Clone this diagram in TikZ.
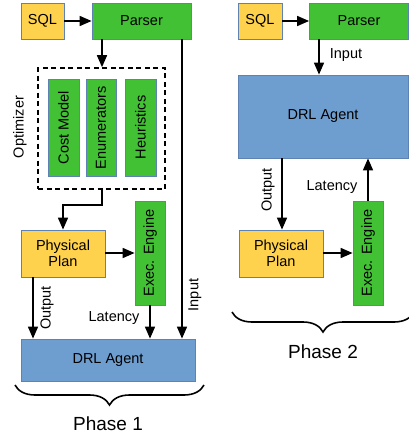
\documentclass[tikz,border=0pt]{standalone}
\usepackage{fontspec}
\setmainfont{Liberation Sans}
\usetikzlibrary{arrows.meta,decorations.pathreplacing}
\definecolor{yel}{HTML}{FFD24D}
\definecolor{grn}{HTML}{42C134}
\definecolor{blu}{HTML}{6E9ECF}
\definecolor{bord}{HTML}{5F82B5}
\begin{document}
\begin{tikzpicture}[x=1pt,y=-1pt,
  font=\fontsize{14.5}{16}\selectfont,
  box/.style={draw=bord,line width=0.8pt,inner sep=0pt,anchor=center},
  ybox/.style={box,fill=yel},
  gbox/.style={box,fill=grn},
  bbox/.style={box,fill=blu},
  arr/.style={line width=1.6pt,-{Triangle[length=12pt,width=10pt]}},
  lbl/.style={inner sep=0pt},
  brc/.style={decorate,decoration={brace,mirror,amplitude=20pt,aspect=0.5},line width=1.6pt}]
\useasboundingbox (0,0) rectangle (409,436);
% ---------- Phase 1 ----------
\node[ybox,minimum width=43pt,minimum height=36pt] (sql1) at (42.5,21) {SQL};
\node[gbox,minimum width=99pt,minimum height=36pt] (parser1) at (141.5,21) {Parser};
\node[draw,line width=1.6pt,dash pattern=on 5pt off 3.5pt,minimum width=127pt,minimum height=121pt,inner sep=0pt] (opt) at (101.5,128.5) {};
\node[gbox,minimum width=31pt,minimum height=97pt] (cm) at (63.5,127.5) {};
\node[lbl,rotate=90] at (cm.center) {Cost Model};
\node[gbox,minimum width=30pt,minimum height=97pt] (en) at (101,127.5) {};
\node[lbl,rotate=90] at (en.center) {Enumerators};
\node[gbox,minimum width=31pt,minimum height=97pt] (heu) at (140.5,127.5) {};
\node[lbl,rotate=90] at (heu.center) {Heuristics};
\node[lbl,rotate=90] (optl) at (20,127) {Optimizer};
\node[ybox,minimum width=84pt,minimum height=47pt,align=center] (pp1) at (63,253.5) {Physical\\Plan};
\node[gbox,minimum width=30pt,minimum height=104pt] (ex1) at (150,253) {};
\node[lbl,rotate=90] at (ex1.center) {Exec. Engine};
\node[bbox,minimum width=174pt,minimum height=42pt] (drl1) at (108,360) {DRL Agent};
\coordinate (o1) at (33,0);
\coordinate (i1) at (182,0);
\coordinate (m1) at (102,205);
\draw[arr] (sql1.east) -- (parser1.west);
\draw[arr] (parser1.south -| m1) -- (opt.north -| m1);
\draw[arr] (opt.south -| m1) -- (m1) -| (pp1.north);
\draw[arr] (pp1.east |- ex1.west) -- (ex1.west);
\draw[arr] (pp1.south -| o1) -- (drl1.north -| o1);
\node[lbl,rotate=90] (out1) at (47,308) {Output};
\draw[arr] (ex1.south) -- (drl1.north -| ex1.south);
\node[lbl] (lat1) at (114,318) {Latency};
\draw[arr] (parser1.south -| i1) -- (drl1.north -| i1);
\node[lbl,rotate=90] (in1) at (195,295) {Input};
\draw[brc] (15,385) -- (204,385);
\node[lbl,font=\fontsize{19}{22}\selectfont] (ph1) at (108,424) {Phase 1};
% ---------- Phase 2 ----------
\node[ybox,minimum width=44pt,minimum height=36pt] (sql2) at (260,21) {SQL};
\node[gbox,minimum width=99pt,minimum height=36pt] (parser2) at (359,21) {Parser};
\node[bbox,minimum width=170pt,minimum height=83pt] (drl2) at (323,116.5) {DRL Agent};
\node[ybox,minimum width=84pt,minimum height=47pt,align=center] (pp2) at (281,253.5) {Physical\\Plan};
\node[gbox,minimum width=30pt,minimum height=104pt] (ex2) at (368,253) {};
\node[lbl,rotate=90] at (ex2.center) {Exec. Engine};
\coordinate (i2) at (319,0);
\coordinate (o2) at (282,0);
\draw[arr] (sql2.east) -- (parser2.west);
\draw[arr] (parser2.south -| i2) -- (drl2.north -| i2);
\node[lbl] (in2) at (346,55) {Input};
\draw[arr] (drl2.south -| o2) -- (pp2.north -| o2);
\node[lbl,rotate=90] (out2) at (268,190) {Output};
\draw[arr] (ex2.north) -- (drl2.south -| ex2.north);
\node[lbl] (lat2) at (332,187) {Latency};
\draw[arr] (pp2.east |- ex2.west) -- (ex2.west);
\draw[brc] (232,312) -- (414,312);
\node[lbl,font=\fontsize{19}{22}\selectfont] (ph2) at (323,352) {Phase 2};
\end{tikzpicture}
\end{document}
